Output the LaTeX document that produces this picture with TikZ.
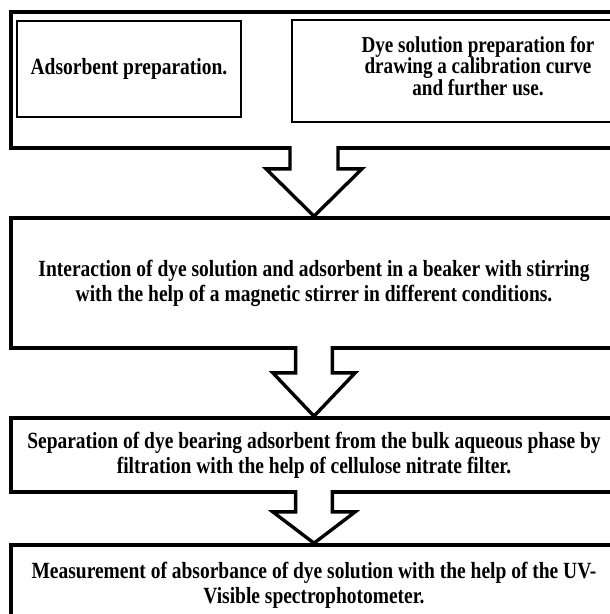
\documentclass[tikz,border=0pt]{standalone}
\usepackage{fontspec}
\setmainfont{Liberation Serif}[FakeStretch=0.84]
\usetikzlibrary{calc}

\tikzset{
  outerbox/.style={draw, line width=2.6pt, minimum width=15.15cm, inner sep=0pt},
  innerbox/.style={draw, line width=1.8pt, inner sep=0pt},
  steptext/.style={font=\fontsize{16.5}{17.8}\selectfont\bfseries, align=center},
  smalltext/.style={font=\fontsize{16.2}{15.4}\selectfont\bfseries, align=center},
  arrowline/.style={line width=2.4pt, line join=miter}
}

% hollow block arrow: from, to, shaft half width, head half width, shaft length
\newcommand{\blockarrow}[5]{%
  \fill[white] ($(#1.south)+(-#3,0.13)$) -- ($(#1.south)+(-#3,-#5)$) -- ($(#1.south)+(-#4,-#5)$)
    -- (#2.north) -- ($(#1.south)+(#4,-#5)$) -- ($(#1.south)+(#3,-#5)$) -- ($(#1.south)+(#3,0.13)$) -- cycle;
  \draw[arrowline] ($(#1.south)+(-#3,0.09)$) -- ($(#1.south)+(-#3,-#5)$) -- ($(#1.south)+(-#4,-#5)$)
    -- (#2.north) -- ($(#1.south)+(#4,-#5)$) -- ($(#1.south)+(#3,-#5)$) -- ($(#1.south)+(#3,0.09)$);
}

\begin{document}
\begin{tikzpicture}
  \useasboundingbox (0,0) rectangle (15.25,-15.35);
  \clip (0,0) rectangle (15.25,-15.35);

  % Preparation stage
  \node[outerbox, minimum height=3.4cm] (prep) at (7.85,-2.0) {};
  \node[innerbox, steptext, minimum width=5.6cm, minimum height=2.4cm] (adsorb) at (3.225,-1.725)
    {Adsorbent preparation.};
  \node[innerbox, smalltext, minimum width=9.3cm, minimum height=2.55cm] (dyeprep) at (11.95,-1.775)
    {Dye solution preparation for\\drawing a calibration curve\\and further use.\\[-8pt]};

  % Adsorption
  \node[outerbox, steptext, minimum height=3.25cm] (interact) at (7.85,-7.075)
    {Interaction of dye solution and adsorbent in a beaker with stirring\\with the help of a magnetic stirrer in different conditions.};

  % Filtration
  \node[outerbox, steptext, minimum height=1.85cm] (separate) at (7.85,-11.375)
    {Separation of dye bearing adsorbent from the bulk aqueous phase by\\filtration with the help of cellulose nitrate filter.};

  % Measurement
  \node[outerbox, steptext, minimum height=2.0cm] (measure) at (7.85,-14.625)
    {Measurement of absorbance of dye solution with the help of the UV-\\Visible spectrophotometer.};

  % Arrows
  \blockarrow{prep}{interact}{0.6}{1.2}{0.475}
  \blockarrow{interact}{separate}{0.46}{1.03}{0.575}
  \blockarrow{separate}{measure}{0.46}{1.03}{0.45}
\end{tikzpicture}
\end{document}
